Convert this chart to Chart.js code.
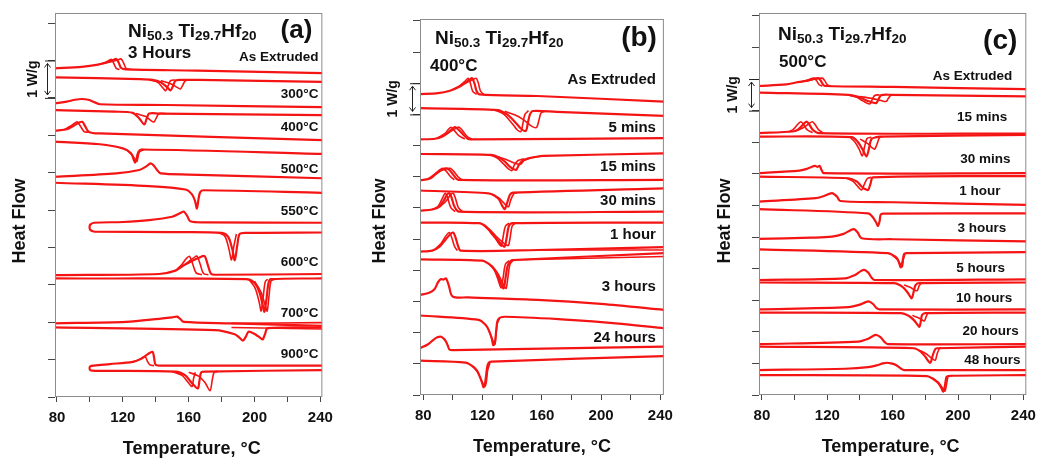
<!DOCTYPE html>
<html>
<head>
<meta charset="utf-8">
<script src="https://cdn.jsdelivr.net/npm/chart.js@4.4.1/dist/chart.umd.min.js"></script>
<style>
  body { margin: 0; background: #fff; width: 1043px; height: 460px; overflow: hidden; position: relative; }
  canvas { position: absolute; top: 0; }
</style>
</head>
<body>
<canvas id="dscA" width="340" height="460" style="left:0"></canvas>
<canvas id="dscB" width="340" height="460" style="left:340px"></canvas>
<canvas id="dscC" width="363" height="460" style="left:680px"></canvas>
<script>
// ---- data: temperature in °C, heat flow in W/g (curves stacked with offsets) ----
const tempLabelTicks = [80, 120, 160, 200, 240];
const tempMinorTicks = [80, 100, 120, 140, 160, 180, 200, 220, 240];
const alloyName = [['Ni', 0], ['50.3', 1], [' Ti', 0], ['29.7', 1], ['Hf', 0], ['20', 1]];

// (a) 3 hours at different temperatures
const samplesA = ['As Extruded', '300°C', '400°C', '500°C', '550°C', '600°C', '700°C', '900°C'];
const coolingA = [
  [[78.8,8.79],[95,8.83],[105,8.89],[111,8.96],[114,9.01],[116,9.04],[117.5,8.94],[119,8.80],[122,8.76],[165,8.73],[241.2,8.66]],
  [[78.8,7.85],[86,7.90],[91,7.95],[95,7.97],[99,7.95],[103,7.88],[106,7.83],[146,7.81],[241.2,7.75]],
  [[78.8,7.12],[86,7.16],[90,7.25],[93,7.33],[95.4,7.36],[97,7.25],[99.4,7.09],[106,7.05],[241.2,6.87]],
  [[78.8,5.89],[116,5.98],[130,6.07],[134,6.16],[137,6.25],[139,6.18],[141,6.06],[143,5.98],[160,5.95],[241.2,5.85]],
  [[102.5,4.42],[100.2,4.47],[99.8,4.54],[100.2,4.61],[102.5,4.66],[120,4.68],[136,4.73],[150,4.82],[155,4.92],[157,4.96],[159,4.85],[161,4.70],[170,4.67],[241.2,4.66]],
  [[78.8,3.26],[142,3.29],[152,3.38],[157,3.52],[162,3.64],[166,3.72],[169.6,3.77],[171.5,3.55],[173.5,3.30],[176,3.27],[241.2,3.29]],
  [[78.8,1.97],[122,2.01],[142,2.09],[150,2.13],[153,2.15],[155,2.08],[157,2.01],[186,1.97],[241.2,1.90]],
  [[102.5,0.70],[100.2,0.72],[99.8,0.77],[100.2,0.82],[102.5,0.84],[112,0.88],[126,0.94],[131,1.02],[135,1.14],[138,1.21],[139,1.05],[140,0.86],[145,0.84],[241.2,0.84]]
];
const heatingA = [
  [[78.8,8.55],[130,8.50],[138,8.48],[143,8.42],[147,8.28],[149,8.20],[150.5,8.32],[152,8.46],[156,8.48],[166,8.48],[241.2,8.43]],
  [[78.8,7.67],[115,7.63],[126,7.60],[130,7.45],[133,7.29],[134.5,7.45],[136,7.58],[142,7.58],[241.2,7.54]],
  [[78.8,6.83],[106,6.76],[120,6.65],[125,6.52],[127.5,6.27],[129.5,6.56],[132,6.62],[241.2,6.50]],
  [[78.8,5.73],[136,5.64],[158,5.55],[162,5.42],[163.8,5.25],[165,5.04],[166,5.30],[167,5.48],[169,5.53],[241.2,5.46]],
  [[102.5,4.42],[150,4.41],[180,4.39],[184,4.28],[186.5,3.95],[188,3.66],[189.5,4.05],[191,4.36],[195,4.39],[241.2,4.40]],
  [[78.8,3.17],[195,3.15],[200,3.05],[203,2.80],[205,2.45],[206,2.28],[207.2,2.60],[208.5,3.05],[210,3.15],[241.2,3.17]],
  [[78.8,1.86],[176,1.79],[188,1.68],[191,1.58],[193,1.51],[194.8,1.62],[196.5,1.75],[201,1.66],[203.5,1.58],[205,1.54],[206.5,1.70],[208,1.84],[241.2,1.86]],
  [[102.5,0.70],[152,0.68],[158,0.58],[161,0.42],[163.5,0.30],[165.6,0.23],[166.6,0.45],[167.6,0.66],[170,0.68],[241.2,0.72]]
];
// later thermal cycles, only where they separate from the first one
const repeatsA = [
  [[105,8.89],[110,8.96],[113,9.03],[114.5,8.92],[116,8.79],[118,8.76]],
  [[108,8.92],[114,8.98],[117,9.02],[119,9.04],[120.5,8.93],[122,8.79],[125,8.76]],
  [[136,8.48],[141,8.42],[144.5,8.26],[146,8.19],[147.5,8.32],[149,8.46],[152,8.48]],
  [[143,8.46],[149,8.38],[153,8.28],[155,8.24],[156.5,8.35],[158,8.46],[162,8.48]],
  [[128,7.58],[134,7.50],[137.5,7.38],[139,7.36],[140.5,7.48],[142,7.58],[146,7.58]],
  [[84,7.14],[88,7.24],[91,7.33],[92.2,7.36],[94,7.26],[96.5,7.10],[99,7.08]],
  [[122,6.62],[126,6.45],[128.5,6.30],[130,6.55],[133,6.62]],
  [[178,4.40],[182,4.30],[184.5,3.95],[186,3.67],[187.5,4.05],[189,4.36]],
  [[155,3.46],[160,3.62],[163,3.72],[165,3.77],[167,3.55],[169,3.30],[172,3.27]],
  [[152,3.38],[156,3.55],[158.5,3.70],[160.5,3.76],[162.5,3.55],[164.5,3.32],[168,3.27]],
  [[197,3.12],[200.5,2.90],[203,2.50],[204,2.30],[205.2,2.65],[206.5,3.08],[208,3.15]],
  [[200,3.10],[204,2.80],[206.7,2.42],[207.7,2.30],[208.8,2.70],[210,3.10],[212,3.15]],
  [[186,1.97],[241.2,1.99]],
  [[186,1.86],[241.2,1.82]],
  [[126,0.94],[130,1.00],[133.5,1.08],[135,0.95],[136.5,0.86],[139,0.84]],
  [[150,0.68],[156,0.58],[159.5,0.40],[162,0.28],[163,0.50],[164,0.66]],
  [[160,0.66],[166,0.56],[170,0.38],[173,0.17],[174.3,0.45],[175.5,0.66],[178,0.68]]
];

// (b) 400°C for different times
const samplesB = ['As Extruded', '5 mins', '15 mins', '30 mins', '1 hour', '3 hours', '24 hours'];
const coolingB = [
  [[77.8,9.65],[90,9.68],[98,9.76],[104,9.88],[108,10.00],[111,10.10],[113,10.16],[114.5,10.00],[116,9.75],[118,9.64],[157,9.59],[242.4,9.41]],
  [[77.8,8.20],[88,8.22],[93,8.29],[97,8.42],[99.5,8.54],[101.5,8.59],[104,8.50],[107,8.35],[110,8.22],[112,8.20],[242.4,8.24]],
  [[77.8,6.88],[85,6.95],[89,7.11],[93,7.24],[95.8,7.27],[98,7.20],[101,7.02],[103.7,6.90],[242.4,6.90]],
  [[77.8,5.91],[86,5.95],[91,6.04],[94,6.25],[96,6.42],[97.6,6.47],[99,6.35],[101,6.05],[104.2,5.88],[242.4,5.88]],
  [[77.8,4.60],[86,4.63],[91,4.76],[95,4.98],[98,5.15],[100.2,5.21],[101.8,5.05],[103.5,4.78],[105.3,4.63],[157,4.65],[242.4,4.74]],
  [[77.8,3.21],[84,3.28],[87.7,3.40],[90,3.62],[92,3.72],[93.5,3.70],[95.4,3.74],[97.3,3.50],[99.8,3.16],[110,3.13],[157,3.05],[200,2.92],[242.4,2.73]],
  [[77.8,1.50],[83,1.62],[86.6,1.76],[89.5,1.85],[92.1,1.87],[94,1.80],[95.4,1.71],[96.6,1.58],[97.6,1.46],[100,1.44],[242.4,1.55]]
];
const heatingB = [
  [[77.8,9.20],[130.5,9.14],[136,9.02],[139,8.90],[143,8.70],[146,8.54],[149.2,8.47],[150.5,8.70],[152,9.00],[154,9.11],[170,9.08],[242.4,8.95]],
  [[77.8,7.73],[126,7.70],[131,7.62],[135,7.49],[139,7.30],[142.6,7.22],[144.5,7.38],[147,7.52],[150.3,7.58],[155,7.63],[161.3,7.67],[242.4,7.75]],
  [[77.8,6.56],[124,6.47],[128,6.40],[131,6.28],[133.5,6.05],[135,5.96],[136.5,6.15],[138.5,6.42],[140.4,6.49],[242.4,6.63]],
  [[77.8,5.53],[117.4,5.51],[123,5.38],[126,5.19],[130,4.98],[133,4.82],[134.9,4.76],[136.3,5.05],[137.8,5.42],[140.4,5.51],[242.4,5.53]],
  [[77.8,4.35],[119.6,4.31],[125,4.18],[128.3,4.01],[131,3.75],[133,3.50],[134.3,3.42],[135.5,3.75],[137,4.15],[139,4.30],[140.4,4.33],[242.4,4.55]],
  [[77.8,2.55],[117.4,2.41],[122,2.25],[124.5,2.05],[126.3,1.80],[127.2,1.60],[128.3,1.65],[129.3,2.10],[130.5,2.42],[135,2.51],[179,2.41],[210,2.30],[242.4,2.14]],
  [[77.8,1.10],[108.6,1.04],[113,0.93],[116.3,0.78],[118.5,0.55],[120,0.35],[120.7,0.25],[121.8,0.40],[123,0.85],[124,1.02],[126,1.07],[242.4,1.25]]
];
const repeatsB = [
  [[100,9.80],[105,9.93],[108.5,10.08],[110.3,10.16],[111.8,10.00],[113.3,9.75],[116,9.64]],
  [[106,9.96],[111,10.06],[114,10.13],[115.8,10.16],[117.2,10.00],[118.6,9.75],[121,9.63]],
  [[128,9.14],[134,9.02],[138,8.82],[141,8.65],[143.5,8.50],[145.9,8.45],[147.2,8.70],[148.6,9.00],[151,9.12]],
  [[135,9.10],[142,8.98],[147,8.85],[151,8.70],[154,8.60],[156.5,8.58],[158,8.80],[159.5,9.05],[162,9.10]],
  [[90,8.26],[94.5,8.38],[97,8.52],[98.7,8.59],[101,8.48],[104,8.32],[108,8.21]],
  [[95,8.35],[99,8.47],[102.3,8.56],[104.2,8.59],[106.5,8.48],[109.5,8.30],[113,8.20]],
  [[125,7.70],[130,7.60],[134,7.42],[137.5,7.25],[139.8,7.20],[141.5,7.38],[144,7.52],[148,7.58]],
  [[130,7.65],[136,7.55],[141,7.45],[144,7.40],[145.9,7.41],[148,7.52],[151,7.58]],
  [[83,6.92],[87,7.06],[91,7.22],[93.2,7.27],[95.5,7.18],[98.5,7.00],[101,6.90]],
  [[88,7.08],[92,7.20],[96,7.26],[98.2,7.27],[100.4,7.18],[103.4,7.00],[106,6.90]],
  [[126,6.45],[131,6.32],[134,6.18],[136.3,6.06],[137.6,6.04],[139,6.25],[141,6.45],[143,6.49]],
  [[86,5.95],[90,6.05],[92.8,6.30],[94.9,6.47],[96.4,6.33],[98.5,6.02],[101.5,5.88]],
  [[91,6.04],[95,6.20],[98.4,6.42],[100.2,6.47],[101.6,6.33],[103.6,6.02],[106.5,5.88]],
  [[120,5.48],[125,5.25],[129,5.00],[131.5,4.82],[132.7,4.78],[134,5.10],[135.5,5.42],[138,5.51]],
  [[124,5.35],[129,5.10],[134,4.88],[136.5,4.80],[137.6,4.80],[138.8,5.10],[140,5.42],[142,5.51]],
  [[88,4.68],[92,4.86],[95.5,5.12],[97.6,5.21],[99.2,5.05],[101,4.78],[103,4.63]],
  [[157,4.65],[242.4,4.65]],
  [[124,4.22],[128,4.00],[130.5,3.70],[132,3.48],[132.7,3.44],[134,3.80],[135.5,4.20],[138,4.31]],
  [[126,4.15],[130,3.92],[133,3.65],[135,3.45],[136,3.42],[137.2,3.80],[138.6,4.20],[141,4.33]],
  [[140.4,4.33],[242.4,4.44]],
  [[124,2.10],[126.5,1.80],[128.2,1.62],[129,1.90],[130,2.30],[131.5,2.46]],
  [[114,0.90],[117,0.70],[119.5,0.45],[121.5,0.27],[122.5,0.40],[123.5,0.80],[125,1.03]]
];

// (c) 500°C for different times
const samplesC = ['As Extruded', '15 mins', '30 mins', '1 hour', '3 hours', '5 hours', '10 hours', '20 hours', '48 hours'];
const coolingC = [
  [[78.2,9.78],[95,9.83],[101,9.89],[106,9.93],[110,9.98],[114.5,10.03],[116,9.95],[117.5,9.82],[119,9.78],[160,9.75],[241.8,9.68]],
  [[78.2,8.29],[98.8,8.34],[102,8.40],[105,8.55],[107.3,8.65],[109,8.56],[111,8.40],[114.9,8.29],[241.8,8.27]],
  [[78.2,7.02],[102.9,7.10],[107,7.15],[110,7.21],[112.5,7.25],[114,7.22],[115.3,7.25],[116.5,7.12],[117.9,7.02],[241.8,7.02]],
  [[78.2,6.12],[112.9,6.23],[118,6.30],[122.9,6.39],[125.9,6.28],[127.9,6.14],[160,6.10],[241.8,6.02]],
  [[78.2,4.94],[110,4.98],[122.9,5.01],[130,5.10],[134,5.21],[136.3,5.25],[138.5,5.15],[141,4.96],[160,4.93],[241.8,4.86]],
  [[78.2,3.64],[130.9,3.69],[137,3.80],[140.5,3.92],[142.6,3.96],[145,3.88],[147,3.72],[149,3.64],[241.8,3.66]],
  [[78.2,2.71],[132.9,2.78],[140,2.86],[143.5,2.94],[145.6,2.96],[148,2.88],[150,2.76],[152,2.71],[241.8,2.71]],
  [[78.2,1.61],[139,1.69],[145,1.78],[148,1.87],[150,1.90],[152.5,1.83],[155,1.68],[157,1.61],[241.8,1.61]],
  [[78.2,0.79],[131,0.83],[145,0.88],[151,0.95],[154,1.00],[156.6,1.02],[159,1.00],[162,0.95],[165,0.84],[167,0.79],[241.8,0.79]]
];
const heatingC = [
  [[78.2,9.57],[132.9,9.50],[140,9.42],[144,9.32],[147,9.27],[150,9.24],[151.5,9.38],[153,9.49],[159,9.50],[241.8,9.45]],
  [[78.2,8.18],[135,8.16],[138.5,8.02],[141.5,7.78],[144,7.55],[145.5,7.80],[147,8.10],[150,8.16],[152,8.18],[241.8,8.23]],
  [[78.2,6.91],[132.9,6.86],[138,6.76],[141,6.60],[143,6.52],[145,6.49],[146.5,6.70],[148,6.89],[241.8,6.93]],
  [[78.2,5.88],[145,5.75],[148,5.62],[150,5.45],[151,5.35],[152,5.50],[152.6,5.70],[154,5.74],[241.8,5.75]],
  [[78.2,4.61],[157,4.49],[161,4.40],[163,4.30],[164.2,4.14],[165,4.04],[166,4.22],[167,4.46],[168.5,4.49],[241.8,4.52]],
  [[78.2,3.56],[161,3.54],[165,3.46],[167,3.38],[169.5,3.22],[171.6,3.06],[173,3.30],[174,3.48],[176,3.54],[241.8,3.56]],
  [[78.2,2.61],[165,2.59],[170,2.50],[173,2.37],[175,2.24],[176.4,2.16],[177.3,2.35],[178,2.53],[180,2.59],[241.8,2.61]],
  [[78.2,1.53],[173,1.48],[177,1.38],[180,1.21],[183,1.02],[184.5,1.25],[186,1.45],[187,1.48],[241.8,1.53]],
  [[78.2,0.63],[181,0.60],[185,0.50],[188,0.37],[189.8,0.22],[191,0.11],[192,0.30],[193,0.58],[195,0.61],[241.8,0.63]]
];
const repeatsC = [
  [[102,9.90],[107,9.95],[111.9,10.03],[113.4,9.95],[115,9.82],[117,9.78]],
  [[105,9.92],[110,9.97],[116.9,10.03],[118.4,9.95],[120,9.82],[122,9.78]],
  [[132,9.50],[138,9.42],[142,9.30],[146,9.21],[147.5,9.35],[149,9.48],[152,9.50]],
  [[140,9.45],[148,9.38],[153,9.32],[156,9.29],[157.5,9.40],[159,9.49],[162,9.50]],
  [[96,8.33],[99,8.40],[101.8,8.56],[103.9,8.65],[105.6,8.55],[107.6,8.40],[111,8.30]],
  [[101,8.36],[105,8.45],[108.6,8.58],[110.9,8.65],[112.6,8.55],[114.6,8.40],[117.5,8.29]],
  [[134,8.15],[137,8.00],[139.5,7.78],[141.4,7.57],[142.8,7.85],[144.3,8.12],[147,8.16]],
  [[140,8.10],[145,7.95],[147.5,7.82],[149,7.78],[150.5,7.95],[152,8.15],[154,8.18]],
  [[132,6.86],[136,6.75],[139,6.58],[141,6.49],[142.5,6.65],[144.5,6.85],[147,6.89]],
  [[160,4.42],[163.5,4.25],[165.8,4.05],[166.6,4.30],[167.6,4.48]],
  [[167,3.48],[171,3.40],[173.5,3.32],[175,3.30],[176.2,3.45],[177.5,3.54]],
  [[172,2.52],[176,2.44],[178.5,2.36],[179.5,2.35],[180.5,2.48],[181.5,2.58],[183,2.61]],
  [[176,1.42],[180,1.32],[183,1.20],[186,1.10],[187.2,1.30],[188.5,1.46],[190,1.50]],
  [[184,0.55],[188,0.40],[190.5,0.22],[192,0.12],[193,0.35],[194,0.58],[196,0.61]]
];

// ---- drawing ----
const FONT = '"Liberation Sans", Arial, Helvetica, sans-serif';
const RED = '#f51414';
const INK = '#111';
const FRAME = '#8c8c8c';
const TICK = '#444';

function traces(list, width) {
  return list.map(pts => ({
    data: pts.map(([x, y]) => ({ x, y })),
    borderColor: RED,
    borderWidth: width,
    pointRadius: 0,
    tension: 0.3,
    fill: false
  }));
}

function vText(ctx, txt, x, y, size) {
  ctx.save();
  ctx.translate(x, y);
  ctx.rotate(-Math.PI / 2);
  ctx.font = `bold ${size}px ${FONT}`;
  ctx.textAlign = 'center';
  ctx.textBaseline = 'middle';
  ctx.fillText(txt, 0, 0);
  ctx.restore();
}

// frame, alloy name, panel letter, 1 W/g bar, axis titles and sample names
const panelDecor = {
  id: 'panelDecor',
  afterDraw(chart, args, o) {
    const { ctx, chartArea: a, scales: { x, y } } = chart;
    ctx.save();
    ctx.strokeStyle = FRAME;
    ctx.lineWidth = 1;
    ctx.strokeRect(a.left + 0.5, a.top + 0.5, a.right - a.left - 1, a.bottom - a.top - 1);

    ctx.fillStyle = INK;
    ctx.textAlign = 'left';
    ctx.textBaseline = 'alphabetic';
    let cx = a.left + o.titleAt[0];
    const by = a.top + o.titleAt[1];
    alloyName.forEach(([txt, sub]) => {
      ctx.font = `bold ${sub ? 13.5 : 19}px ${FONT}`;
      ctx.fillText(txt, cx, sub ? by + 3 : by);
      cx += ctx.measureText(txt).width;
    });
    ctx.font = `bold 17px ${FONT}`;
    ctx.fillText(o.condition, a.left + o.conditionAt[0], a.top + o.conditionAt[1]);
    ctx.textAlign = 'right';
    ctx.font = `bold ${o.tagSize}px ${FONT}`;
    ctx.fillText(o.tag, a.right - o.tagAt[0], a.top + o.tagAt[1]);

    // sample names
    ctx.font = `bold ${o.labelSize}px ${FONT}`;
    ctx.textBaseline = 'middle';
    o.samples.forEach((s, i) => {
      const rx = Array.isArray(o.labelRight) ? o.labelRight[i] : o.labelRight;
      ctx.fillText(s, x.getPixelForValue(rx), y.getPixelForValue(o.levels[i]));
    });

    // axis titles
    ctx.textAlign = 'center';
    ctx.textBaseline = 'alphabetic';
    ctx.font = `bold 18px ${FONT}`;
    ctx.fillText('Temperature, °C', (a.left + a.right) / 2 + o.xTitleShift, a.bottom + 57);
    vText(ctx, 'Heat Flow', a.left - o.yTitleGap, 221, 18);

    // 1 W/g scale bar
    const y0 = y.getPixelForValue(o.scaleBar[1]);
    const y1 = y.getPixelForValue(o.scaleBar[0]);
    const ax = a.left - 7.5;
    ctx.strokeStyle = '#222';
    ctx.lineWidth = 1;
    ctx.beginPath();
    ctx.moveTo(a.left - 10, y0 + 0.5); ctx.lineTo(a.left, y0 + 0.5);
    ctx.moveTo(a.left - 10, y1 + 0.5); ctx.lineTo(a.left, y1 + 0.5);
    ctx.moveTo(ax, y0 + 3); ctx.lineTo(ax, y1 - 3);
    ctx.moveTo(ax - 3, y0 + 7); ctx.lineTo(ax, y0 + 3); ctx.lineTo(ax + 3, y0 + 7);
    ctx.moveTo(ax - 3, y1 - 7); ctx.lineTo(ax, y1 - 3); ctx.lineTo(ax + 3, y1 - 7);
    ctx.stroke();
    vText(ctx, '1 W/g', a.left - o.barLabelGap, (y0 + y1) / 2, 14);
    ctx.restore();
  }
};

function makePanel(id, cooling, heating, repeats, xRange, yTop, decor) {
  const yTicks = [];
  for (let v = 0; v <= Math.floor(yTop); v++) yTicks.push(v);
  return new Chart(document.getElementById(id), {
    type: 'line',
    data: { datasets: [...traces(cooling, 2.2), ...traces(heating, 2.2), ...traces(repeats, 1.6)] },
    options: {
      responsive: false,
      animation: false,
      events: [],
      layout: { padding: decor.padding },
      plugins: { legend: { display: false }, tooltip: { enabled: false }, panelDecor: decor },
      scales: {
        x: {
          type: 'linear', min: xRange[0], max: xRange[1],
          afterBuildTicks: s => { s.ticks = tempMinorTicks.map(v => ({ value: v })); },
          afterFit: s => { s.height = 33; },
          grid: { drawOnChartArea: false, tickLength: 5, color: TICK },
          border: { display: false },
          ticks: {
            autoSkip: false, maxRotation: 0, padding: 7, color: INK,
            font: { family: FONT, size: 15, weight: 'bold' },
            callback: v => tempLabelTicks.includes(v) ? String(v) : ''
          }
        },
        y: {
          type: 'linear', min: 0, max: yTop,
          afterBuildTicks: s => { s.ticks = yTicks.map(v => ({ value: v })); },
          afterFit: s => { s.width = 10; },
          grid: { drawOnChartArea: false, tickLength: 7, color: TICK },
          border: { display: false },
          ticks: { callback: () => '' }
        }
      }
    },
    plugins: [panelDecor]
  });
}

makePanel('dscA', coolingA, heatingA, repeatsA, [78.8, 241.2], 10.27, {
  padding: { left: 45, right: 15, top: 13, bottom: 30 },
  titleAt: [73, 24], condition: '3 Hours', conditionAt: [73, 45],
  tag: '(a)', tagSize: 26, tagAt: [10, 25],
  samples: samplesA, labelSize: 13.5, labelRight: 238.8,
  levels: [9.09, 8.10, 7.22, 6.10, 4.97, 3.61, 2.25, 1.15],
  scaleBar: [8, 9], barLabelGap: 22, yTitleGap: 35, xTitleShift: 3
});

makePanel('dscB', coolingB, heatingB, repeatsB, [77.8, 242.4], 12.06, {
  padding: { left: 70, right: 10, top: 19, bottom: 32 },
  titleAt: [15, 24.5], condition: '400°C', conditionAt: [10, 52],
  tag: '(b)', tagSize: 28, tagAt: [7, 27],
  samples: samplesB, labelSize: 15, labelRight: 237,
  levels: [10.11, 8.57, 7.31, 6.22, 5.13, 3.46, 1.83],
  scaleBar: [9, 10], barLabelGap: 27, yTitleGap: 40, xTitleShift: 0
});

makePanel('dscC', coolingC, heatingC, repeatsC, [78.2, 241.8], 12.09, {
  padding: { left: 69, right: 11, top: 13, bottom: 32 },
  titleAt: [19, 26.5], condition: '500°C', conditionAt: [20, 54],
  tag: '(c)', tagSize: 28, tagAt: [9, 36],
  samples: samplesC, labelSize: 13.5,
  labelRight: [233.2, 230.2, 232.2, 226, 229.6, 228.8, 233.2, 237.2, 238.2],
  levels: [10.10, 8.80, 7.47, 6.46, 5.29, 4.02, 3.07, 2.03, 1.11],
  scaleBar: [9, 10], barLabelGap: 26, yTitleGap: 34, xTitleShift: -2
});
</script>
</body>
</html>
